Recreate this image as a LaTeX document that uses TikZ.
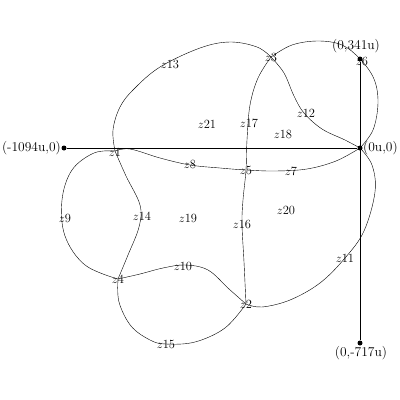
\documentclass[tikz,border=0pt]{standalone}
\begin{document}
\begin{tikzpicture}[x=1pt,y=-1pt,
  curve/.style={line width=0.8pt, smooth, tension=0.6},
  axis/.style={line width=0.9pt},
  lbl/.style={inner sep=0pt, font=\fontsize{12.5}{12.5}\selectfont},
  albl/.style={inner sep=0pt, font=\fontsize{13.5}{13.5}\selectfont},
  dot/.style={circle, fill=black, inner sep=0pt, minimum size=5pt}]
\useasboundingbox (0,0) rectangle (400,400);
% vertices
\coordinate (v1) at (115,151);
\coordinate (v2) at (246,304);
\coordinate (v3) at (271,57);
\coordinate (v4) at (118,279);
\coordinate (v5) at (246,170);
\coordinate (v6) at (360,59);
\coordinate (O) at (360,148);
% axes
\node[dot] (dL) at (64,148) {};
\node[dot] (dT) at (360,59) {};
\node[dot] (dB) at (360,343) {};
\node[dot] (dO) at (O) {};
\draw[axis] (dL) -- (dO);
\draw[axis] (dT) -- (dB);
\node[albl, anchor=east] (tL) at (61,148) {(-1094u,0)};
\node[albl] (tT) at (356,46) {(0,341u)};
\node[albl, anchor=west] (tO) at (363,148) {(0u,0)};
\node[albl] (tB) at (361,353) {(0,-717u)};
% curves
\draw plot[curve] coordinates {(v1) (113,130) (120,107) (134,89) (160,67) (200,48) (230,42) (257,47) (v3)};
\draw plot[curve] coordinates {(v3) (284,73) (294,96) (304,113) (322,129) (345,140) (O)};
\draw plot[curve] coordinates {(v3) (292,45) (318,41) (342,45) (v6) (374,79) (378,103) (373,130) (O)};
\draw plot[curve] coordinates {(v1) (130,149) (160,158) (190,165) (220,168) (v5) (275,171) (307,169) (336,161) (O)};
\draw plot[curve] coordinates {(v3) (258,78) (250,105) (247,140) (v5) (243,200) (242,224) (244,262) (v2)};
\draw plot[curve] coordinates {(O) (372,165) (375,192) (364,231) (345,258) (320,283) (290,300) (262,307) (v2)};
\draw plot[curve] coordinates {(v1) (94,153) (72,170) (62,200) (65,236) (85,265) (v4)};
\draw plot[curve] coordinates {(v1) (126,176) (140,205) (139,227) (128,255) (v4)};
\draw plot[curve] coordinates {(v4) (140,274) (163,268) (185,265) (208,270) (229,289) (v2)};
\draw plot[curve] coordinates {(v4) (119,302) (131,326) (150,340) (166,344) (195,342) (225,328) (v2)};
% labels
\node[lbl] (l1) at (115,152) {$z$1};
\node[lbl] (l2) at (246,304) {$z$2};
\node[lbl] (l3) at (271,57) {$z$3};
\node[lbl] (l4) at (118,279) {$z$4};
\node[lbl] (l5) at (246,170) {$z$5};
\node[lbl] (l6) at (362,61) {$z$6};
\node[lbl] (l7) at (291,171) {$z$7};
\node[lbl] (l8) at (190,164) {$z$8};
\node[lbl] (l9) at (65,218) {$z$9};
\node[lbl] (l10) at (183,266) {$z$10};
\node[lbl] (l11) at (345,258) {$z$11};
\node[lbl] (l12) at (306,113) {$z$12};
\node[lbl] (l13) at (170,64) {$z$13};
\node[lbl] (l14) at (142,216) {$z$14};
\node[lbl] (l15) at (166,344) {$z$15};
\node[lbl] (l16) at (242,224) {$z$16};
\node[lbl] (l17) at (249,123) {$z$17};
\node[lbl] (l18) at (283,134) {$z$18};
\node[lbl] (l19) at (188,218) {$z$19};
\node[lbl] (l20) at (286,210) {$z$20};
\node[lbl] (l21) at (207,124) {$z$21};
\end{tikzpicture}
\end{document}
